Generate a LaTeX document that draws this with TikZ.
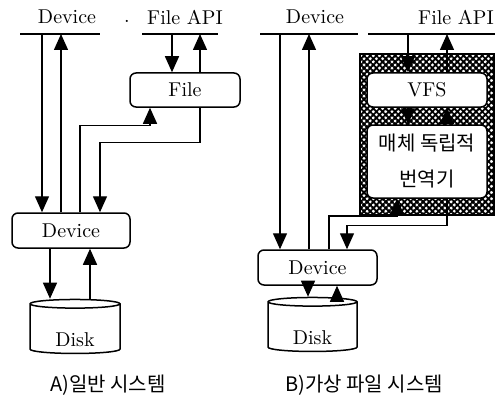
\documentclass[tikz,border=0pt]{standalone}
\usepackage{fontspec}
\newfontfamily\krfont{Noto Sans CJK KR}
\usepackage{tikz}
\usetikzlibrary{arrows.meta,positioning,shapes.geometric,patterns.meta}

\begin{document}
\begin{tikzpicture}[
            x=0.5pt, y=-0.5pt,
            box/.style={draw, rounded corners=3pt, line width=0.75pt, fill=white, inner sep=0pt, align=center},
            disk/.style={draw, cylinder, shape border rotate=90, aspect=0.22, line width=0.75pt, inner sep=0pt,
                text height=17pt, text depth=0pt},
            hatchbox/.style={draw, line width=0.75pt, inner sep=0pt,
                preaction={pattern={Lines[angle=45,distance=2.2pt,line width=0.95pt]}},
                pattern={Lines[angle=-45,distance=2.2pt,line width=0.95pt]}},
            arrow/.style={-{Triangle[width=7pt,length=8pt]}, line width=0.7pt},
            bus/.style={line width=0.7pt},
            lbl/.style={inner sep=1pt},
            caption/.style={font=\krfont, inner sep=1pt},
        ]
        \useasboundingbox (0,0) rectangle (497,401);

        % A) general system
        \node[lbl] (devlblA) at (67,17) {Device};
        \node[lbl] (dotA) at (127,21) {.};
        \node[lbl] (apilblA) at (185,17) {File API};
        \coordinate (busA1) at (20,34);
        \coordinate (busA2) at (100,34);
        \coordinate (busA3) at (142,34);
        \coordinate (busA4) at (218,34);
        \draw[bus] (busA1) -- (busA2);
        \draw[bus] (busA3) -- (busA4);

        \node[box, minimum width=55pt, minimum height=17pt] (fileA) at (185,90) {File};
        \node[box, minimum width=59pt, minimum height=17.5pt] (devA) at (71,230.5) {Device};
        \node[disk, minimum width=45pt, minimum height=27pt] (diskA) at (75,329) {Disk};

        \draw[arrow] ([xshift=-14.5pt]devA.north |- busA1) -- ([xshift=-14.5pt]devA.north);
        \draw[arrow] ([xshift=-5pt]devA.north) -- ([xshift=-5pt]devA.north |- busA1);
        \draw[arrow] ([xshift=-6.5pt]fileA.north |- busA3) -- ([xshift=-6.5pt]fileA.north);
        \draw[arrow] ([xshift=7.5pt]fileA.north) -- ([xshift=7.5pt]fileA.north |- busA3);

        \draw[arrow] ([xshift=4.5pt]devA.north) |- ([xshift=-17.5pt,yshift=-9pt]fileA.south) -- ([xshift=-17.5pt]fileA.south);
        \draw[arrow] ([xshift=7.5pt]fileA.south) -- ([xshift=7.5pt,yshift=-17.5pt]fileA.south) -| ([xshift=14.5pt]devA.north);

        \draw[arrow] ([xshift=-10.5pt]devA.south) -- ([xshift=-10.5pt]devA.south |- diskA.north);
        \draw[arrow] ([xshift=9.5pt]devA.south |- diskA.north) -- ([xshift=9.5pt]devA.south);

        \node[caption] (capA) at (108,385) {A)일반 시스템};

        % B) virtual file system
        \node[lbl] (devlblB) at (315,17) {Device};
        \node[lbl] (apilblB) at (456,17) {File API};
        \coordinate (busB1) at (260,34);
        \coordinate (busB2) at (358,34);
        \coordinate (busB3) at (368,34);
        \coordinate (busB4) at (495,34);
        \draw[bus] (busB1) -- (busB2);
        \draw[bus] (busB3) -- (busB4);

        \node[hatchbox, minimum width=67pt, minimum height=80.5pt] (vfsarea) at (427,134.5) {};
        \node[box, minimum width=60pt, minimum height=17pt] (vfs) at (427,90) {VFS};
        \node[box, minimum width=60pt, minimum height=36.5pt, font=\krfont] (trans) at (427,161.5) {매체 독립적\\[6pt]번역기};
        \node[box, minimum width=59.5pt, minimum height=17.5pt] (devB) at (317.5,267.5) {Device};
        \node[disk, minimum width=44.5pt, minimum height=27pt] (diskB) at (312.5,327) {Disk};

        \draw[arrow] ([xshift=-18.75pt]devB.north |- busB1) -- ([xshift=-18.75pt]devB.north);
        \draw[arrow] ([xshift=-4.25pt]devB.north) -- ([xshift=-4.25pt]devB.north |- busB1);
        \draw[arrow] ([xshift=-9.5pt]vfs.north |- busB3) -- ([xshift=-9.5pt]vfs.north);
        \draw[arrow] ([xshift=10pt]vfs.north) -- ([xshift=10pt]vfs.north |- busB3);
        \draw[arrow] ([xshift=-9.5pt]vfs.south) -- ([xshift=-9.5pt]trans.north);
        \draw[arrow] ([xshift=10pt]trans.north) -- ([xshift=10pt]vfs.south);

        \draw[arrow] ([xshift=5.75pt]devB.north) |- ([xshift=-15pt]vfsarea.south) -- ([xshift=-15pt]trans.south);
        \draw[arrow] ([xshift=10pt]trans.south) -- ([xshift=10pt,yshift=-13.5pt]trans.south) -| ([xshift=14.75pt]devB.north);

        \draw[arrow] ([xshift=-4.75pt]devB.south) -- ([xshift=-4.75pt]devB.south |- diskB.north);
        \draw[arrow] ([xshift=9.75pt]devB.south |- diskB.north) -- ([xshift=9.75pt]devB.south);

        \node[caption] (capB) at (364,385) {B)가상 파일 시스템};
    \end{tikzpicture}
\end{document}
